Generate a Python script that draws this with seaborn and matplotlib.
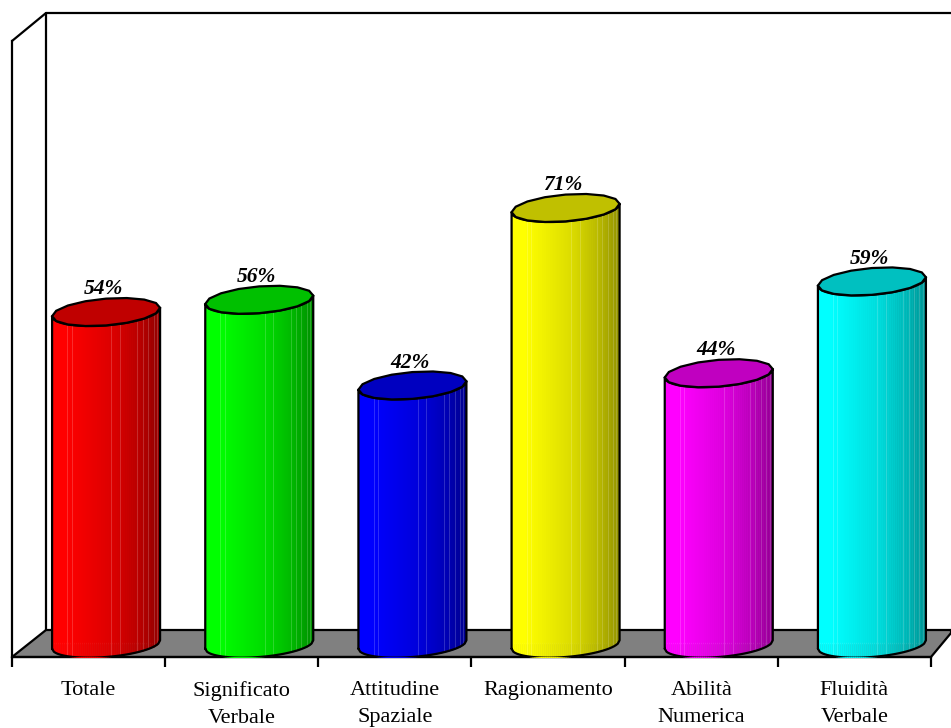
import numpy as np
import matplotlib
matplotlib.use("Agg")
import matplotlib.pyplot as plt
from matplotlib.colors import to_rgb
from matplotlib.patches import Polygon
from matplotlib.transforms import Affine2D
import seaborn as sns

categories = ["Totale", "Significato\nVerbale", "Attitudine\nSpaziale",
              "Ragionamento", "Abilità\nNumerica", "Fluidità\nVerbale"]
values = [54, 56, 42, 71, 44, 59]
colors = ["#ff0000", "#00ff00", "#0000ff", "#ffff00", "#ff00ff", "#00ffff"]

W, H = 951, 728
L, R, B, T = 12, 931, 657, 41      # front plane, pixels
Y0 = 642.5                         # pixel row of value 0
K = 6.12                           # pixels per percent
sns.set_theme(style="white", rc={"font.family": ["Liberation Serif", "DejaVu Serif"]})
fig = plt.figure(figsize=(W / 100, H / 100), dpi=100, facecolor="white")
ax = fig.add_axes([L / W, 1 - B / H, (R - L) / W, (B - T) / H])
ax.patch.set_visible(False)
px = Affine2D().scale(1, -1).translate(0, H)

# floor and back wall
fig.add_artist(Polygon([(12, 657), (46, 630), (951, 630), (951, 633), (931, 657)], closed=True,
                       facecolor="#808080", edgecolor="black", lw=1.6, transform=px, zorder=0))
for xs, ys in [((12, 46, 951), (41, 13, 13)), ((46, 46), (13, 630))]:
    fig.add_artist(plt.Line2D(xs, ys, color="black", lw=1.6, transform=px, zorder=0))

sns.barplot(x=categories, y=values, hue=categories, palette=colors, saturation=1,
            width=108 / 153.17, legend=False, dodge=False, ax=ax, zorder=2)
ax.set_xlim(-0.5, 5.5)
ax.set_ylim((Y0 - B) / K, (Y0 - T) / K)

DEPTH = 17.5 / 153.17              # sideways shift of bars into the floor
RX = 54 / 153.17
A, TILT = 13.4 / K, 4.2 / K        # ellipse half-height and tilt, data units
BASE_A = 12.5 / K
BASE_DROP = 2.0 / K
FACETS = [0.14, 0.18, 0.55, 0.63, 0.79, 0.84, 0.89, 0.94, 0.97]
bars = [p for p in ax.patches if p.get_height() > 0]


def lower(u, a):
    """Offset of the front arc for u in -1..1 (left..right)."""
    return TILT * u - a * np.sqrt(np.clip(1 - u * u, 0, 1))


def shade(f):
    return np.interp(f, [0, 0.12, 0.55, 0.8, 1.0], [1.0, 1.0, 0.86, 0.72, 0.56])


for i, (bar, v, c) in enumerate(zip(bars, values, colors)):
    base = np.array(to_rgb(c))
    cx = bar.get_x() + bar.get_width() / 2 + DEPTH
    edges = np.linspace(-1, 1, 55)
    body_u = np.linspace(-1, 1, 61)
    arc_top = v + lower(body_u, A)
    arc_bot = lower(body_u, BASE_A) - BASE_DROP
    outline = np.r_[np.c_[cx + RX * body_u, arc_bot], np.c_[cx + RX * body_u[::-1], arc_top[::-1]]]
    bar.set_x(bar.get_x() + DEPTH)
    clip = Polygon(outline, closed=True, transform=ax.transData)
    bar.set_clip_path(clip)
    for u0, u1 in zip(edges[:-1], edges[1:]):
        f = (u0 + u1 + 2) / 4
        us = np.array([u0, min(u1 + 0.006, 1)])
        ax.fill_between(cx + RX * us, lower(us, BASE_A) - BASE_DROP, v + lower(us, A),
                        color=base * shade(f), lw=0, zorder=3)
    for f in FACETS:
        u = 2 * f - 1
        light = base * shade(f) * 0.82 + 0.18
        ax.plot([cx + RX * u] * 2, [lower(u, BASE_A) - BASE_DROP, v + lower(u, A)],
                color=light, lw=0.7, zorder=3.5)
    ax.plot(outline[:, 0].tolist() + [outline[0, 0]], outline[:, 1].tolist() + [outline[0, 1]],
            color="black", lw=1.6, zorder=4)
    # polygonal top cap
    t = np.linspace(0, 2 * np.pi, 17)[:-1]
    cap = np.c_[cx + RX * np.cos(t), v + TILT * np.cos(t) + A * np.sin(t)]
    ax.add_patch(Polygon(cap, closed=True, facecolor=base * 0.753, edgecolor="black", lw=1.6, zorder=5))
    ax.annotate(f"{v}%", xy=(cx, v), xytext=(-2.5 * 0.72, 12.8), textcoords="offset points",
                ha="center", va="baseline", fontsize=15.5, fontweight="bold", fontstyle="italic",
                color="black", zorder=6)

sns.despine(ax=ax, top=True, right=True)
for s in ("left", "bottom"):
    ax.spines[s].set_linewidth(1.6)
    ax.spines[s].set_color("black")
    ax.spines[s].set_zorder(1)
ax.set_yticks([])
ax.set_xticks(range(len(categories)))
ax.set_xticklabels(categories, fontsize=16, linespacing=1.62, color="black")
ax.set_xticks(np.arange(-0.5, 6.0, 1), minor=True)
ax.tick_params(axis="x", which="major", length=0, pad=17)
ax.tick_params(axis="x", which="minor", length=7.2, width=1.6, color="black", bottom=True)
ax.set_xlabel("")
ax.set_ylabel("")
fig.savefig("out.png", dpi=100, facecolor="white")
